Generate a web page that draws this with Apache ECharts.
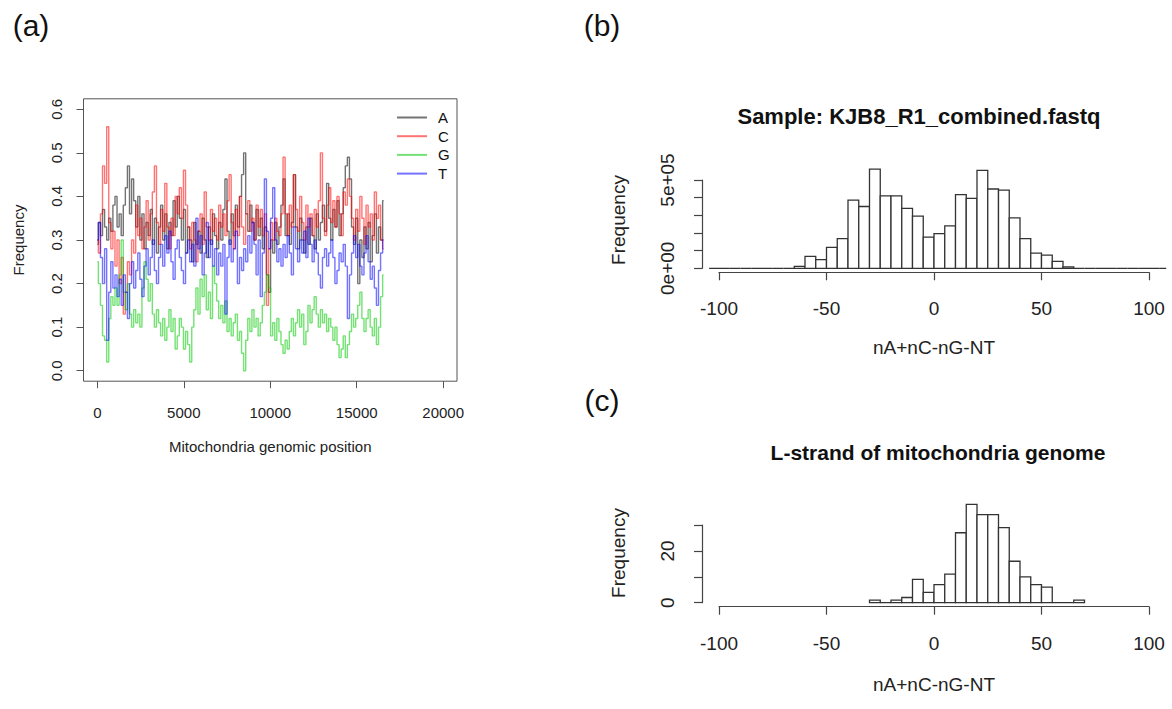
<!DOCTYPE html>
<html><head><meta charset="utf-8">
<script src="https://cdn.jsdelivr.net/npm/echarts@6/dist/echarts.min.js"></script>
<style>html,body{margin:0;padding:0;background:#fff}#c{width:1172px;height:709px}</style>
</head><body><div id="c"></div>
<script>
// ---------- Panel (a): base frequency along the mitochondrial genome ----------
const STEP = 120; // window spacing in bp
const freqA = [0.29,0.34,0.31,0.37,0.33,0.30,0.35,0.32,0.38,0.40,0.33,0.36,0.31,0.38,0.42,0.47,0.36,0.44,0.39,0.33,
0.40,0.30,0.36,0.28,0.34,0.31,0.37,0.29,0.35,0.27,0.33,0.38,0.30,0.36,0.28,0.34,0.31,0.39,0.33,0.40,
0.35,0.30,0.37,0.27,0.33,0.30,0.25,0.34,0.29,0.32,0.27,0.35,0.30,0.26,0.33,0.29,0.36,0.31,0.28,0.34,
0.30,0.37,0.44,0.32,0.29,0.36,0.31,0.38,0.33,0.40,0.45,0.50,0.36,0.32,0.38,0.34,0.30,0.37,0.31,0.35,
0.28,0.33,0.22,0.18,0.30,0.27,0.34,0.29,0.33,0.38,0.44,0.31,0.36,0.29,0.34,0.45,0.33,0.28,0.35,0.30,
0.27,0.33,0.29,0.35,0.31,0.28,0.36,0.30,0.34,0.38,0.32,0.43,0.35,0.30,0.37,0.33,0.39,0.31,0.36,0.42,
0.47,0.49,0.44,0.33,0.29,0.35,0.20,0.30,0.26,0.33,0.28,0.34,0.25,0.31,0.36,0.27,0.33,0.30,0.39];
const freqC = [0.30,0.27,0.36,0.47,0.43,0.56,0.34,0.28,0.32,0.24,0.30,0.20,0.26,0.13,0.18,0.25,0.22,0.30,0.27,0.38,
0.31,0.35,0.28,0.33,0.39,0.30,0.36,0.41,0.47,0.34,0.29,0.37,0.32,0.43,0.33,0.28,0.35,0.31,0.40,0.36,
0.42,0.35,0.46,0.38,0.33,0.28,0.34,0.30,0.25,0.32,0.36,0.29,0.41,0.33,0.30,0.37,0.32,0.35,0.30,0.38,
0.33,0.36,0.31,0.39,0.45,0.34,0.28,0.37,0.31,0.40,0.33,0.29,0.36,0.39,0.32,0.35,0.30,0.38,0.33,0.37,
0.31,0.36,0.15,0.28,0.34,0.30,0.35,0.32,0.31,0.36,0.49,0.36,0.31,0.38,0.33,0.45,0.37,0.32,0.40,0.34,
0.30,0.38,0.33,0.36,0.31,0.37,0.33,0.39,0.50,0.35,0.31,0.38,0.42,0.34,0.39,0.33,0.40,0.36,0.31,0.41,
0.38,0.44,0.40,0.35,0.30,0.37,0.32,0.40,0.35,0.29,0.38,0.33,0.36,0.30,0.41,0.35,0.38,0.30,0.28];
const freqG = [0.25,0.20,0.15,0.08,0.07,0.02,0.12,0.17,0.15,0.19,0.15,0.22,0.30,0.18,0.14,0.20,0.13,0.10,0.14,0.11,
0.13,0.10,0.19,0.25,0.21,0.16,0.20,0.13,0.10,0.14,0.11,0.08,0.12,0.07,0.10,0.14,0.09,0.12,0.05,0.08,
0.12,0.10,0.05,0.09,0.06,0.02,0.10,0.14,0.19,0.13,0.21,0.17,0.22,0.14,0.18,0.12,0.24,0.20,0.16,0.12,
0.15,0.11,0.16,0.09,0.12,0.08,0.11,0.13,0.07,0.09,0.04,0.00,0.07,0.12,0.09,0.14,0.10,0.12,0.08,0.11,
0.15,0.18,0.22,0.19,0.08,0.11,0.07,0.12,0.09,0.06,0.04,0.07,0.05,0.09,0.12,0.08,0.11,0.14,0.10,0.13,
0.06,0.09,0.15,0.11,0.14,0.17,0.13,0.10,0.14,0.11,0.13,0.09,0.12,0.10,0.07,0.10,0.06,0.03,0.05,0.08,
0.03,0.06,0.09,0.13,0.10,0.12,0.15,0.18,0.12,0.09,0.12,0.14,0.10,0.08,0.12,0.06,0.10,0.17,0.22];
const freqT = [0.30,0.34,0.26,0.20,0.28,0.07,0.18,0.25,0.19,0.22,0.17,0.21,0.15,0.22,0.18,0.12,0.20,0.25,0.19,0.23,
0.27,0.21,0.17,0.24,0.28,0.22,0.26,0.30,0.23,0.20,0.26,0.29,0.24,0.31,0.27,0.32,0.25,0.21,0.28,0.30,
0.26,0.23,0.20,0.27,0.30,0.25,0.29,0.24,0.35,0.28,0.31,0.22,0.27,0.34,0.26,0.30,0.24,0.28,0.22,0.27,
0.24,0.29,0.13,0.26,0.30,0.25,0.28,0.32,0.20,0.26,0.23,0.28,0.25,0.31,0.27,0.34,0.29,0.22,0.30,0.17,
0.27,0.44,0.32,0.28,0.35,0.42,0.30,0.25,0.28,0.24,0.29,0.26,0.31,0.27,0.22,0.33,0.28,0.25,0.30,0.27,
0.32,0.26,0.35,0.29,0.25,0.30,0.27,0.22,0.19,0.26,0.28,0.24,0.27,0.30,0.26,0.20,0.23,0.27,0.25,0.29,
0.24,0.12,0.22,0.27,0.31,0.26,0.29,0.24,0.22,0.27,0.31,0.25,0.21,0.24,0.19,0.15,0.23,0.27,0.30];
const baseNames = ['A','C','G','T'];
const posTicks = [0,5000,10000,15000,20000];
const freqTicks = [0,0.1,0.2,0.3,0.4,0.5,0.6];

// ---------- Panel (b): read histogram, bins of width 5 starting at -105 ----------
const histBStart = -105;
const histBWidth = 5;
const histBCounts = [0,0,0,0,0,0,0,0,
 11000,67000,49000,118000,168000,386000,350000,562000,410000,410000,339000,295000,177000,
 196000,240000,417000,396000,554000,449000,443000,286000,168000,86000,75000,39000,8000,
 0,0,0,0,0,0,0,0,0];

// ---------- Panel (c): L-strand histogram, bins of width 5 starting at -30 ----------
const histCStart = -30;
const histCWidth = 5;
const histCCounts = [1,0,1,2,9,4,7,11,27,38,34,34,29,16,10,7,6,0,0,1];

// ---------- build ----------
const FONT = '"Liberation Sans", Arial, sans-serif';
const positions = freqA.map((_, i) => i * STEP);
const pair = arr => arr.map((v, i) => [positions[i], v]);
const binRows = (start, w, counts) => counts.map((c, i) => [start + i * w, start + (i + 1) * w, c]);

const lineColors = ['rgba(0,0,0,0.55)','rgba(255,0,0,0.55)','rgba(0,200,0,0.55)','rgba(0,0,255,0.55)'];
const freqData = [freqA, freqC, freqG, freqT];

function histRender(xmin, xmax) {
  return function (params, api) {
    const x0 = Math.max(api.value(0), xmin), x1 = Math.min(api.value(1), xmax);
    const p0 = api.coord([x0, 0]);
    const p1 = api.coord([x1, api.value(2)]);
    return {
      type: 'rect',
      shape: { x: p0[0], y: p1[1], width: p1[0] - p0[0], height: p0[1] - p1[1] },
      style: { fill: '#fff', stroke: '#333', lineWidth: 1.3 }
    };
  };
}

const axisTxt = { fontFamily: FONT, color: '#222' };
const histAxisLine = { show: true, onZero: false, lineStyle: { color: '#444', width: 1.2 } };
const histTick = { show: true, length: 8, lineStyle: { color: '#444', width: 1.2 } };

const option = {
  animation: false,
  backgroundColor: '#fff',
  grid: [
    { left: 83.5, top: 98.8, width: 373.5, height: 282.4, show: true, borderColor: '#555', borderWidth: 1, backgroundColor: 'transparent' },
    { left: 719, top: 180, width: 430, height: 88.3 },
    { left: 719, top: 525, width: 430, height: 77.7 }
  ],
  xAxis: [
    { gridIndex: 0, type: 'value', min: -800, max: 20800,
      axisLine: { show: false, onZero: false }, splitLine: { show: false },
      axisTick: { show: true, customValues: posTicks, length: 7, lineStyle: { color: '#555' } },
      axisLabel: { customValues: posTicks, margin: 24, fontSize: 15, ...axisTxt, formatter: v => String(v) },
      name: 'Mitochondria genomic position', nameLocation: 'middle', nameGap: 58,
      nameTextStyle: { fontSize: 15, ...axisTxt } },
    { gridIndex: 1, type: 'value', min: -100, max: 100, interval: 50, offset: 4,
      axisLine: histAxisLine, splitLine: { show: false }, axisTick: histTick,
      axisLabel: { margin: 27, fontSize: 19, ...axisTxt },
      name: 'nA+nC-nG-NT', nameLocation: 'middle', nameGap: 66,
      nameTextStyle: { fontSize: 19, ...axisTxt } },
    { gridIndex: 2, type: 'value', min: -100, max: 100, interval: 50, offset: 4,
      axisLine: histAxisLine, splitLine: { show: false }, axisTick: histTick,
      axisLabel: { margin: 27, fontSize: 19, ...axisTxt },
      name: 'nA+nC-nG-NT', nameLocation: 'middle', nameGap: 68,
      nameTextStyle: { fontSize: 19, ...axisTxt } }
  ],
  yAxis: [
    { gridIndex: 0, type: 'value', min: -0.024, max: 0.624,
      axisLine: { show: false, onZero: false }, splitLine: { show: false },
      axisTick: { show: true, customValues: freqTicks, length: 7, lineStyle: { color: '#555' } },
      axisLabel: { customValues: freqTicks, rotate: 90, margin: 20, fontSize: 15, ...axisTxt,
        formatter: v => Number(v).toFixed(1) } },
    { gridIndex: 1, type: 'value', min: 0, max: 500000, interval: 100000, offset: 17,
      axisLine: histAxisLine, splitLine: { show: false }, axisTick: histTick,
      axisLabel: { rotate: 90, margin: 25, fontSize: 19, ...axisTxt,
        formatter: v => (v === 0 ? '0e+00' : (v === 500000 ? '5e+05' : '')) } },
    { gridIndex: 2, type: 'value', min: 0, max: 30, interval: 10, offset: 17,
      axisLine: histAxisLine, splitLine: { show: false }, axisTick: histTick,
      axisLabel: { rotate: 90, margin: 25, fontSize: 19, ...axisTxt,
        formatter: v => (v === 0 || v === 20 ? String(v) : '') } }
  ],
  legend: {
    orient: 'vertical', left: 392, top: 105, itemWidth: 30, itemHeight: 2, itemGap: 3.7,
    icon: 'rect',
    data: baseNames, textStyle: { fontSize: 15, lineHeight: 15, fontFamily: FONT, color: '#111', padding: [0, 0, 0, 6] },
    selectedMode: false
  },
  series: [
    ...baseNames.map((n, i) => ({
      name: n, type: 'line', xAxisIndex: 0, yAxisIndex: 0, step: 'middle',
      symbol: 'none', data: pair(freqData[i]),
      lineStyle: { color: lineColors[i], width: 1.4 }, itemStyle: { color: lineColors[i] }
    })),
    { type: 'custom', xAxisIndex: 1, yAxisIndex: 1, clip: false,
      renderItem: histRender(-104.6, 108), encode: { x: [0, 1], y: 2 },
      data: binRows(histBStart, histBWidth, histBCounts) },
    { type: 'custom', xAxisIndex: 2, yAxisIndex: 2, clip: false,
      renderItem: histRender(-108, 108), encode: { x: [0, 1], y: 2 },
      data: binRows(histCStart, histCWidth, histCCounts) }
  ],
  graphic: [
    { type: 'text', x: 31, y: 25, style: { text: '(a)', font: '30px ' + FONT, fill: '#111', align: 'center', verticalAlign: 'middle' } },
    { type: 'text', x: 602, y: 25, style: { text: '(b)', font: '30px ' + FONT, fill: '#111', align: 'center', verticalAlign: 'middle' } },
    { type: 'text', x: 602, y: 400, style: { text: '(c)', font: '30px ' + FONT, fill: '#111', align: 'center', verticalAlign: 'middle' } },
    { type: 'text', x: 18, y: 240, rotation: Math.PI / 2, style: { text: 'Frequency', font: '15px ' + FONT, fill: '#222', align: 'center', verticalAlign: 'middle' } },
    { type: 'text', x: 618, y: 220, rotation: Math.PI / 2, style: { text: 'Frequency', font: '19px ' + FONT, fill: '#222', align: 'center', verticalAlign: 'middle' } },
    { type: 'text', x: 618, y: 553, rotation: Math.PI / 2, style: { text: 'Frequency', font: '19px ' + FONT, fill: '#222', align: 'center', verticalAlign: 'middle' } },
    { type: 'text', x: 919, y: 116, style: { text: 'Sample: KJB8_R1_combined.fastq', font: 'bold 22px ' + FONT, fill: '#111', align: 'center', verticalAlign: 'middle' } },
    { type: 'text', x: 938, y: 452, style: { text: 'L-strand of mitochondria genome', font: 'bold 21px ' + FONT, fill: '#111', align: 'center', verticalAlign: 'middle' } }
  ]
};

const chart = echarts.init(document.getElementById('c'), null, { renderer: 'svg', width: 1172, height: 709 });
chart.setOption(option);
</script>
</body></html>
